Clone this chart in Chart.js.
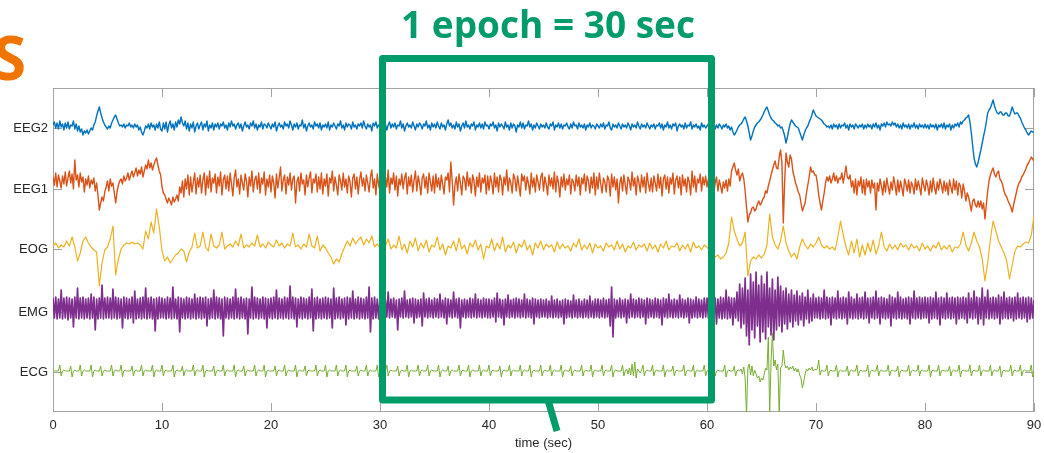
<!DOCTYPE html>
<html>
<head>
<meta charset="utf-8">
<script src="https://cdn.jsdelivr.net/npm/chart.js@4"></script>
<style>
  html, body { margin: 0; padding: 0; background: #fff; }
</style>
</head>
<body>
<canvas id="canvas" width="1044" height="453"></canvas>
<script>
'use strict';

// channel names (bottom to top) and their baseline on the y axis
const channels = ['ECG', 'EMG', 'EOG', 'EEG1', 'EEG2'];
const baselines = [40, 100, 163, 223, 284];
const timeTicks = [0, 10, 20, 30, 40, 50, 60, 70, 80, 90];
const epoch = [30, 60];

// sample spacing in seconds
const fineStep = 0.125;   // EEG, EMG, ECG: one row = 5 s = 40 samples
const eogStep = 0.25;     // EOG: one row = 5 s = 20 samples

const eeg2 = [
  3,6,0,5,-1,7,1,4,-2,5, 0,6,-1,3,2,7,-1,4,-3,2, -4,-1,-7,-3,-5,-2,-6,-3,0,-2, 3,6,12,17,21,15,10,6,3,1,
  -1,2,0,5,8,11,13,9,5,2, 3,1,4,0,3,2,5,1,3,0, 4,1,3,-2,1,-4,-7,-3,2,0, 4,-1,5,1,3,-2,4,0,6,-1,
  -3,5,-1,6,-4,3,7,0,4,-2, 6,1,8,4,11,5,2,7,-1,5, -3,4,0,6,-4,2,5,-1,3,6, -2,4,1,7,-3,3,0,5,-2,4,
  1,5,-1,4,2,6,0,3,-2,5, 1,7,2,4,-1,3,5,0,4,-3, 2,6,1,3,-1,5,2,7,0,4, -2,3,1,6,-1,4,3,0,5,2,
  -1,4,1,6,-3,2,5,1,3,-1, 6,2,4,0,7,3,-2,4,1,5, -1,3,2,8,0,4,-3,2,5,1, 3,-1,6,2,4,0,5,-2,3,1,
  4,0,6,-2,3,1,5,2,-1,4, 2,7,0,3,-2,5,1,4,3,-1, 6,1,3,-1,4,2,5,0,7,2, -1,4,1,3,-3,5,2,6,0,3,
  2,-1,5,1,4,-2,3,6,0,4, 1,5,-1,3,2,7,0,4,-3,2, 5,1,3,0,6,2,-2,4,1,5, 3,-1,4,2,7,0,3,-2,5,1,
  4,0,6,2,-1,5,1,3,-2,4, 8,2,5,0,3,-1,6,1,4,-3, 2,5,0,7,1,3,-1,4,2,6, -2,3,1,5,0,4,-1,6,2,3,
  -1,4,2,6,0,3,-3,5,1,4, 2,-1,6,1,3,-2,5,0,4,2, -4,3,1,6,0,5,-1,3,2,7, 1,4,-2,3,0,5,2,-1,4,1,
  3,0,5,1,-1,4,2,6,-2,3, 1,5,0,4,-1,3,2,5,1,-1, 4,0,6,2,3,-1,5,1,3,0, 4,-2,3,1,5,0,3,2,-1,4,
  2,0,4,1,5,-1,3,2,6,0, -2,4,1,3,0,5,2,-1,4,1, 3,0,5,2,-2,4,1,3,0,6, 2,-1,4,1,3,0,5,2,-1,3,
  1,4,-1,3,2,5,0,4,-2,3, 1,6,0,3,-1,4,2,5,-3,2, 4,1,3,-1,5,0,3,2,6,-1, 3,1,4,0,2,-2,5,1,3,0,
  2,4,0,3,1,5,-1,3,0,4, 2,-1,3,1,4,0,2,-2,1,-4, -7,-5,-2,1,3,4,6,9,11,7, 2,-5,-12,-8,-3,1,3,5,6,8,
  10,13,16,19,21,17,13,10,8,7, 5,4,2,3,0,1,-3,-8,-15,-9, -2,4,8,6,4,2,1,0,-4,-8, -12,-7,-3,0,2,6,9,13,18,15,
  12,11,10,9,8,6,4,3,1,2, 0,3,-1,4,1,3,-1,4,0,3, 2,5,0,3,-2,4,1,3,-1,4, 2,0,3,1,4,-1,3,0,4,1,
  3,-1,4,1,5,0,3,-2,4,2, 5,1,6,3,4,2,6,3,5,1, 4,0,3,-1,5,1,3,0,4,-1, 3,1,5,0,3,-1,4,1,3,0,
  4,0,3,-1,4,1,3,0,4,-2, 3,1,4,0,5,-1,3,1,4,-2, 3,0,4,2,5,1,6,4,7,8, 10,11,13,6,-5,-18,-30,-36,-39,-34,
  -28,-22,-15,-8,-2,6,15,18,20,24, 28,22,18,15,14,16,16,13,13,15, 15,12,12,16,21,17,14,15,15,12, 10,6,3,0,-2,-5,-7,-5,-3,-4,
  -4
];

const eeg1 = [
  12,4,16,2,14,8,1,13,5,17, 3,11,18,6,15,0,29,9,14,2, 16,7,12,-3,10,4,13,1,9,5, 11,-2,6,-6,-21,-14,-8,-12,-3,2,
  8,-2,10,3,6,-4,-14,-3,4,8, 10,5,13,8,11,16,9,14,18,12, 16,21,13,19,15,22,12,18,24,20, 29,21,26,19,24,28,31,24,18,14,
  2,-4,-6,-10,-14,-9,-12,-16,-8,-13, -10,-6,-12,2,-4,8,-8,10,0,14, -6,12,-3,7,16,-5,11,2,14,-4, 9,16,-6,13,1,18,-3,11,6,15,
  -4,12,3,17,-6,9,14,0,13,-2, 16,5,-7,11,19,2,10,-5,14,6, -1,15,8,-8,12,3,18,-3,9,13, 0,16,-4,11,5,17,-6,10,2,14,
  -3,13,6,-9,15,1,11,22,-2,9, 14,-5,12,4,16,-1,10,13,-14,7, 12,-2,16,5,9,-6,14,2,11,17, -4,10,6,15,-3,12,0,16,-5,10,
  3,15,-7,11,6,18,-2,12,4,-6, 14,8,-1,16,2,10,-4,13,7,-8, 11,15,0,12,-5,9,17,3,11,-2, 14,6,-3,12,19,1,10,-6,15,4,
  -2,14,8,-6,12,2,19,-4,11,5, 16,-1,13,-7,10,4,15,0,11,16, -5,12,3,14,-3,9,18,-2,13,6, -6,11,15,1,12,-4,16,7,-2,13,
  -4,15,2,11,-1,14,5,-5,12,9, 16,-3,27,8,-16,4,12,-2,15,6, -6,13,10,-1,17,3,11,-4,14,8, -7,12,2,16,-3,11,6,14,-5,13,
  -1,13,7,-5,16,2,12,-3,14,9, -6,12,4,19,-2,11,6,-4,15,10, -2,13,3,-7,15,8,13,-1,12,5, -5,16,2,11,-3,14,7,-1,12,16,
  -2,12,5,-6,14,3,11,0,17,-3, 13,6,-8,12,2,15,-1,10,4,14, -5,10,7,-2,14,3,12,-6,11,5, 15,-2,13,8,-4,12,1,16,-6,12,
  0,16,5,-4,11,7,-3,13,9,-7, 15,2,12,-1,10,-14,6,12,-2,14, 4,-5,12,8,-1,17,3,11,-6,13, 7,-3,14,2,12,-4,16,5,-2,11,
  -3,13,6,-2,15,1,12,-7,10,14, 0,12,-4,11,5,16,-5,9,13,1, 12,-6,14,3,10,-3,12,7,-6,18, 2,13,-3,10,6,15,-2,12,4,13,
  2,10,-3,8,4,-4,6,12,-2,9, 3,-4,7,1,9,-2,10,3,18,22, 26,19,14,20,8,13,16,10,-2,-18, -33,-26,-24,-19,-18,-22,-20,-15,-12,-16,
  -14,-10,-8,-2,-4,3,8,14,19,24, 28,21,20,32,39,26,-34,8,36,27, 22,34,30,18,12,6,2,-3,-6,-14, -22,-18,-14,-4,4,12,22,17,18,14,
  14,6,-6,-14,-21,-12,-4,6,12,8, 13,6,10,16,8,13,6,11,10,16, 6,14,23,12,10,14,2,8,-4,10, -6,8,3,12,-4,9,-6,10,2,8,
  -4,9,1,6,-21,6,-2,10,3,-6, 8,-3,11,2,-5,7,-1,12,4,-6, 9,-3,8,1,-7,10,5,-2,9,-4, 7,3,-5,10,-1,8,2,-6,11,4,
  -2,9,3,-6,8,-3,11,1,-5,7, -1,10,4,-4,8,-2,6,-6,9,2, -4,10,-1,8,-6,6,3,-9,5,-2, -12,-4,-8,-15,-22,-12,-10,-16,-18,-12,
  -18,-12,-20,-14,-30,-16,-2,8,14,18, 21,15,12,16,18,10,8,4,-2,-6, -8,-12,-15,-18,-23,-16,-10,-4,2,6, 8,12,14,17,20,24,26,29,32,30,
  28
];

const eog = [
  3,6,1,4,2,8,3,12,2,-12,-4,8,12,6,2,-1,-3,-37,-14,-1,
  2,10,23,-26,-10,0,4,6,5,7,5,6,4,0,18,10,27,16,40,22,
  -2,-12,-8,-14,-10,-6,-4,0,-2,-13,-3,2,16,1,3,17,2,-2,15,3,
  1,4,17,0,3,5,2,8,3,15,1,4,2,6,3,14,2,5,1,7,
  4,2,9,3,6,1,5,3,16,2,4,0,5,2,15,3,1,13,-2,4,
  1,-4,-8,-15,-10,-13,-5,2,8,3,11,5,9,12,4,10,6,13,2,5,
  1,6,3,10,0,4,1,13,-1,5,-4,8,2,11,-2,6,1,9,-3,4,
  2,12,-1,5,-6,3,1,8,-2,11,0,4,-5,6,2,9,-1,5,-10,3,
  1,10,-2,6,0,12,-3,4,1,7,-4,5,2,9,-1,4,-6,6,1,8,
  -1,5,2,4,-3,7,0,5,1,3,-2,6,2,10,-1,4,0,6,-4,5,
  1,3,-2,6,2,4,-1,8,0,5,-3,3,1,7,-1,4,2,5,-2,6,
  0,4,-3,5,1,8,-1,3,2,6,-2,4,0,5,-3,7,1,3,-1,4,
  2,-2,-4,-8,-6,-10,-8,-4,6,32,18,10,3,6,17,-27,-12,-8,-10,-6,
  -9,-5,4,35,12,4,0,8,23,6,-2,-8,-4,-10,2,10,4,0,5,2,
  6,12,4,1,3,0,2,-1,12,28,14,2,-6,8,-4,10,-8,4,-6,6,
  -3,9,-5,3,17,2,-2,5,0,4,-1,6,2,4,-1,5,1,3,-2,6,
  0,3,-2,4,1,7,-1,3,0,4,-3,2,1,5,17,4,-2,6,17,8,
  2,-10,-32,-14,10,28,18,8,2,-4,-12,-30,-16,-2,3,2,5,7,6,14,
  33
];

const emg = [
  14,-6,15,-7,13,-6,22,-7,14,-6, 15,-8,14,-6,13,-15,15,-6,24,-7, 14,-6,15,-7,13,-6,14,-7,18,-6, 15,-18,13,-7,14,-6,27,-7,14,-6,
  15,-6,14,-7,23,-6,15,-7,14,-6, 13,-16,15,-6,14,-7,13,-6,15,-11, 21,-7,13,-6,14,-7,15,-6,24,-7, 14,-6,15,-7,13,-19,14,-7,15,-6,
  14,-6,13,-7,15,-6,14,-7,25,-6, 13,-7,15,-20,14,-6,13,-7,15,-6, 14,-7,13,-6,18,-7,14,-6,15,-7, 14,-6,15,-14,13,-7,14,-6,22,-7,
  15,-6,14,-7,13,-24,15,-6,14,-7, 13,-6,15,-7,23,-6,14,-7,15,-6, 13,-7,14,-22,13,-6,25,-7,15,-6, 14,-7,13,-6,15,-7,14,-16,13,-6,
  14,-7,15,-6,22,-7,14,-6,13,-7, 15,-6,14,-7,26,-6,15,-7,14,-15, 13,-6,15,-7,14,-6,13,-7,15,-6, 23,-19,14,-7,15,-6,13,-7,14,-6,
  15,-7,14,-6,13,-16,24,-7,14,-6, 15,-7,13,-6,14,-13,15,-7,14,-6, 21,-7,13,-6,15,-7,14,-6,13,-7, 15,-6,25,-20,14,-7,15,-6,13,-7,
  13,-5,14,-6,12,-5,20,-6,13,-5, 14,-6,12,-18,13,-5,14,-6,21,-5, 12,-6,13,-5,14,-11,13,-6,12,-5, 13,-14,19,-5,13,-6,14,-5,12,-6,
  14,-5,13,-6,18,-5,12,-6,14,-12, 13,-5,12,-6,20,-5,13,-6,14,-16, 12,-5,13,-6,12,-5,14,-6,13,-5, 18,-6,13,-5,12,-6,14,-5,13,-6,
  13,-6,12,-5,14,-10,19,-5,13,-6, 12,-13,13,-5,17,-6,12,-5,13,-6, 14,-5,13,-6,12,-5,18,-6,13,-5, 12,-6,14,-12,13,-5,12,-6,13,-5,
  12,-5,13,-6,11,-5,16,-6,12,-5, 13,-6,11,-5,12,-12,13,-6,12,-5, 11,-6,17,-5,12,-6,13,-5,11,-6, 13,-5,12,-6,16,-5,11,-6,13,-5,
  13,-6,12,-5,14,-6,12,-5,13,-14, 25,-25,13,-6,12,-5,14,-6,12,-5, 13,-11,12,-6,18,-5,13,-6,12,-5, 14,-6,13,-5,12,-12,14,-6,13,-5,
  12,-6,14,-5,13,-6,12,-13,14,-5, 13,-6,18,-5,12,-6,13,-5,12,-6, 17,-5,13,-6,12,-5,14,-11,13,-6, 12,-5,15,-6,13,-5,12,-6,14,-5,
  14,-6,13,-7,19,-6,14,-12,13,-6, 15,-7,14,-6,22,-7,15,-6,14,-13, 14,-6,20,-9,28,-16,24,-12,34,-24, 22,-33,38,-18,30,-26,40,-14,27,-30,
  36,-20,28,-27,40,-15,24,-23,33,-28, 22,-18,35,-14,26,-20,21,-12,24,-17, 18,-10,22,-15,17,-9,21,-13,16,-8, 19,-14,15,-7,22,-11,14,-9,18,-6,
  14,-6,15,-7,14,-6,22,-7,15,-6, 14,-13,15,-6,14,-7,21,-6,14,-7, 15,-6,14,-12,20,-6,15,-7,13,-6, 18,-7,14,-6,15,-7,20,-6,14,-11,
  14,-6,15,-7,21,-6,14,-12,15,-6, 14,-7,13,-6,17,-14,15,-6,14,-7, 20,-6,15,-7,13,-6,14,-7,15,-12, 14,-6,21,-7,14,-6,15,-7,14,-6,
  15,-6,14,-11,15,-7,14,-6,20,-7, 14,-13,15,-6,14,-7,19,-6,14,-7, 15,-6,14,-12,15,-7,14,-6,15,-7, 14,-11,19,-6,14,-7,21,-6,15,-12,
  14,-7,24,-13,15,-6,22,-7,14,-6, 15,-7,14,-6,17,-12,15,-7,20,-6, 14,-7,15,-6,14,-9,15,-7,19,-6, 14,-7,15,-6,14,-10,15,-7,14,-6,
  12
];

const ecg = [
  1,1,1,1,1,7,-4,1,2,1, 1,1,1,6,-5,1,2,1,1,1, 7,-4,1,2,1,1,1,1,7,-5, 1,2,1,1,1,6,-4,1,2,1,
  1,1,1,7,-4,1,2,1,1,1, 7,-5,1,2,1,1,1,1,6,-4, 1,2,1,1,1,7,-4,1,2,1, 1,1,1,7,-5,1,2,1,1,1,
  7,-4,1,2,1,1,1,1,7,-5, 1,2,1,1,1,6,-4,1,2,1, 1,1,1,7,-4,1,2,1,1,1, 7,-5,1,2,1,1,1,1,6,-4,
  1,2,1,1,1,7,-4,1,2,1, 1,1,1,7,-5,1,2,1,1,1, 6,-4,1,2,1,1,1,1,7,-4, 1,2,1,1,1,7,-5,1,2,1,
  1,1,1,6,-4,1,2,1,1,1, 7,-4,1,2,1,1,1,1,7,-5, 1,2,1,1,1,6,-4,1,2,1, 1,1,1,7,-4,1,2,1,1,1,
  7,-5,1,2,1,1,1,1,7,-4, 1,2,1,1,1,7,-5,1,2,1, 1,1,1,6,-4,1,2,1,1,1, 7,-4,1,2,1,1,1,1,7,-5,
  1,2,1,1,1,7,-4,1,2,1, 1,1,1,6,-4,1,2,1,1,1, 7,-5,1,2,1,1,1,1,7,-4, 1,2,1,1,1,7,-4,1,2,1,
  1,1,1,7,-5,1,2,1,1,1, 6,-4,1,2,1,1,1,1,7,-4, 1,2,1,1,1,7,-5,1,2,1, 1,1,1,7,-4,1,2,1,1,1,
  7,-4,1,2,1,1,1,1,6,-5, 1,2,1,1,1,7,-4,1,2,1, 1,1,1,7,-4,1,2,1,1,1, 7,-5,1,2,1,1,1,1,7,-4,
  1,2,1,1,1,7,-4,1,2,1, 1,1,1,7,-5,1,2,1,1,1, 6,-4,1,2,1,1,1,1,7,-4, 1,2,1,1,1,7,-5,1,2,1,
  1,1,1,7,-4,1,2,1,1,1, 7,-5,1,2,1,1,1,1,7,-4, 1,3,-2,4,-3,8,-4,10,-6,3, 1,-1,2,7,-4,1,2,1,1,1,
  7,-4,1,2,1,1,1,1,7,-5, 1,2,1,1,1,6,-4,1,2,1, 1,1,1,7,-4,1,2,1,1,1, 7,-5,1,2,1,1,1,1,7,-4,
  1,2,1,1,1,7,-4,1,2,1, 1,1,1,7,-5,1,2,1,1,1, 6,-4,1,2,1,3,-2,5,-6,-42, 4,8,-3,6,-4,2,-2,-6,-4,-10,
  -6,-8,-2,4,2,35,-42,10,39,6, 12,2,8,-42,4,6,22,8,4,6, 2,5,3,6,1,4,0,3,-3,-6, -16,-10,-2,3,1,4,2,5,1,3,
  2,3,12,-3,2,1,1,1,7,-4, 1,2,1,1,1,7,-5,1,2,1, 1,1,1,6,-4,1,2,1,1,1, 7,-4,1,2,1,1,1,1,7,-5,
  1,2,1,1,1,7,-4,1,2,1, 1,1,1,7,-4,1,2,1,1,1, 6,-5,1,2,1,1,1,1,7,-4, 1,2,1,1,1,7,-4,1,2,1,
  1,1,1,7,-5,1,2,1,1,1, 7,-4,1,2,1,1,1,1,6,-4, 1,2,1,1,1,7,-5,1,2,1, 1,1,1,7,-4,1,2,1,1,1,
  7,-4,1,2,1,1,1,1,7,-4, 1,2,1,1,1,6,-5,1,2,1, 1,1,1,7,-4,1,2,1,1,1, 7,-4,1,2,1,1,1,1,7,-5,
  1
];

const colors = {
  EEG2: '#0072bd',
  EEG1: '#d95319',
  EOG: '#edb120',
  EMG: '#7e2f8e',
  ECG: '#77ac30'
};
const green = '#009b6a';
const axisFont = { family: '"Liberation Sans", Arial, sans-serif', size: 13 };

function series(values, step, channel) {
  const base = baselines[channels.indexOf(channel)];
  return values.map((v, i) => ({ x: i * step, y: base + v }));
}

function trace(label, data, color, width) {
  return {
    label: label,
    data: data,
    borderColor: color,
    borderWidth: width,
    borderJoinStyle: 'round',
    pointRadius: 0,
    fill: false
  };
}

// box with inward ticks, drawn under the traces
const boxPlugin = {
  id: 'box',
  beforeDatasetsDraw(chart) {
    const { ctx, chartArea: a, scales: { x, y } } = chart;
    ctx.save();
    ctx.strokeStyle = '#a3a3a3';
    ctx.lineWidth = 1;
    ctx.strokeRect(a.left + 0.5, a.top + 0.5, a.right - a.left - 1, a.bottom - a.top - 1);
    ctx.beginPath();
    timeTicks.forEach(t => {
      const px = Math.round(x.getPixelForValue(t)) + 0.5;
      ctx.moveTo(px, a.bottom); ctx.lineTo(px, a.bottom - 9);
      ctx.moveTo(px, a.top); ctx.lineTo(px, a.top + 9);
    });
    baselines.forEach(v => {
      const py = Math.round(y.getPixelForValue(v)) + 0.5;
      ctx.moveTo(a.left, py); ctx.lineTo(a.left + 9, py);
      ctx.moveTo(a.right, py); ctx.lineTo(a.right - 9, py);
    });
    ctx.stroke();
    ctx.restore();
  }
};

// epoch marker and headline on top of the chart
const epochPlugin = {
  id: 'epoch',
  afterDraw(chart) {
    const { ctx, chartArea: a, scales: { x } } = chart;
    const x1 = x.getPixelForValue(epoch[0]) + 2.5;
    const x2 = x.getPixelForValue(epoch[1]) + 4.5;
    const y1 = a.top - 29.5;
    const y2 = a.bottom - 12;
    const mid = (x1 + x2) / 2;
    ctx.save();
    ctx.strokeStyle = green;
    ctx.lineWidth = 7;
    ctx.lineJoin = 'round';
    ctx.strokeRect(x1, y1, x2 - x1, y2 - y1);
    ctx.beginPath();
    ctx.moveTo(mid + 1, y2);
    ctx.lineTo(mid + 10, a.bottom + 19);
    ctx.stroke();

    ctx.fillStyle = green;
    ctx.font = 'bold 37px "Open Sans", "Noto Sans", sans-serif';
    ctx.textAlign = 'center';
    ctx.textBaseline = 'alphabetic';
    ctx.fillText('1 epoch = 30 sec', mid + 1, 38);

    ctx.fillStyle = '#f07400';
    ctx.font = 'bold 60px "Open Sans", "Noto Sans", sans-serif';
    ctx.textAlign = 'right';
    ctx.fillText('S', 26, 80);
    ctx.restore();
  }
};

const ctx = document.getElementById('canvas').getContext('2d');

new Chart(ctx, {
  type: 'line',
  data: {
    datasets: [
      trace('ECG', series(ecg, fineStep, 'ECG'), colors.ECG, 1),
      trace('EMG', series(emg, fineStep, 'EMG'), colors.EMG, 1.7),
      trace('EOG', series(eog, eogStep, 'EOG'), colors.EOG, 1.2),
      trace('EEG1', series(eeg1, fineStep, 'EEG1'), colors.EEG1, 1.4),
      trace('EEG2', series(eeg2, fineStep, 'EEG2'), colors.EEG2, 1.4)
    ]
  },
  options: {
    responsive: false,
    animation: false,
    events: [],
    layout: { padding: { top: 88, right: 10, bottom: 0, left: 0 } },
    scales: {
      x: {
        type: 'linear',
        min: 0,
        max: 90,
        afterBuildTicks(s) { s.ticks = timeTicks.map(v => ({ value: v })); },
        afterFit(s) { s.height = 41; s.paddingLeft = 0; s.paddingRight = 0; },
        ticks: { color: '#262626', font: axisFont, padding: 6, maxRotation: 0, autoSkip: false },
        grid: { display: false, drawTicks: false },
        border: { display: false },
        title: {
          display: true,
          text: 'time (sec)',
          color: '#262626',
          font: axisFont,
          padding: { top: 0, bottom: 2 }
        }
      },
      y: {
        min: 0,
        max: 324,
        afterBuildTicks(s) { s.ticks = baselines.map(v => ({ value: v })); },
        afterFit(s) { s.width = 53; s.paddingTop = 0; s.paddingBottom = 0; },
        ticks: {
          color: '#262626',
          font: axisFont,
          padding: 5,
          autoSkip: false,
          callback: (value, index) => channels[index]
        },
        grid: { display: false, drawTicks: false },
        border: { display: false }
      }
    },
    plugins: {
      legend: { display: false },
      tooltip: { enabled: false }
    }
  },
  plugins: [boxPlugin, epochPlugin]
});
</script>
</body>
</html>
